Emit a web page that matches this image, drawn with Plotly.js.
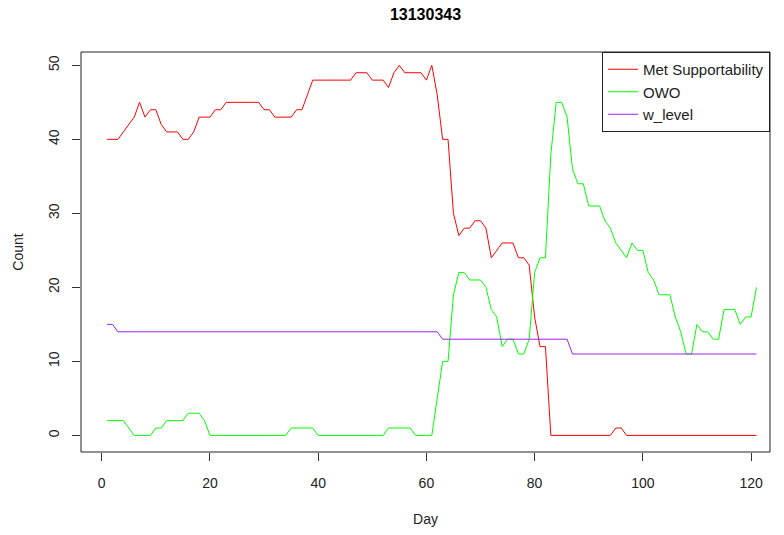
<!DOCTYPE html>
<html>
<head>
<meta charset="utf-8">
<script src="https://cdn.plot.ly/plotly-3.0.1.min.js"></script>
<style>html,body{margin:0;padding:0;background:#fff;}#chart{width:784px;height:535px;}</style>
</head>
<body>
<div id="chart"></div>
<script>
// Day index 1..121
const days = [];
for (let d = 1; d <= 121; d++) days.push(d);

const metSupportability = [
  40,40,40,41,42,43,45,43,44,44,
  42,41,41,41,40,40,41,43,43,43,
  44,44,45,45,45,45,45,45,45,44,
  44,43,43,43,43,44,44,46,48,48,
  48,48,48,48,48,48,49,49,49,48,
  48,48,47,49,50,49,49,49,49,48,
  50,46,40,40,30,27,28,28,29,29,
  28,24,25,26,26,26,24,24,23,16,
  12,12,0,0,0,0,0,0,0,0,
  0,0,0,0,1,1,0,0,0,0,
  0,0,0,0,0,0,0,0,0,0,
  0,0,0,0,0,0,0,0,0,0,
  0
];

const owo = [
  2,2,2,2,1,0,0,0,0,1,
  1,2,2,2,2,3,3,3,2,0,
  0,0,0,0,0,0,0,0,0,0,
  0,0,0,0,1,1,1,1,1,0,
  0,0,0,0,0,0,0,0,0,0,
  0,0,1,1,1,1,1,0,0,0,
  0,5,10,10,19,22,22,21,21,21,
  20,17,16,12,13,13,11,11,13,22,
  24,24,38,45,45,43,36,34,34,31,
  31,31,29,28,26,25,24,26,25,25,
  22,21,19,19,19,16,14,11,11,15,
  14,14,13,13,17,17,17,15,16,16,
  20
];

const wLevel = [
  15,15,14,14,14,14,14,14,14,14,
  14,14,14,14,14,14,14,14,14,14,
  14,14,14,14,14,14,14,14,14,14,
  14,14,14,14,14,14,14,14,14,14,
  14,14,14,14,14,14,14,14,14,14,
  14,14,14,14,14,14,14,14,14,14,
  14,14,13,13,13,13,13,13,13,13,
  13,13,13,13,13,13,13,13,13,13,
  13,13,13,13,13,13,11,11,11,11,
  11,11,11,11,11,11,11,11,11,11,
  11,11,11,11,11,11,11,11,11,11,
  11,11,11,11,11,11,11,11,11,11,
  11
];

const seriesNames = ['Met Supportability', 'OWO', 'w_level'];
const xTicks = [0, 20, 40, 60, 80, 100, 120];
const yTicks = [0, 10, 20, 30, 40, 50];

const fontFam = 'Liberation Sans, Arial, Helvetica, sans-serif';
const txt = '#222';

const traces = [
  {x: days, y: metSupportability, name: seriesNames[0], type: 'scatter', mode: 'lines',
   line: {color: '#FF0000', width: 1}},
  {x: days, y: owo, name: seriesNames[1], type: 'scatter', mode: 'lines',
   line: {color: '#00FF00', width: 1}},
  {x: days, y: wLevel, name: seriesNames[2], type: 'scatter', mode: 'lines',
   line: {color: '#A020F0', width: 1}}
];

const layout = {
  width: 784, height: 535,
  margin: {l: 81, r: 14, t: 52, b: 83},
  paper_bgcolor: '#fff', plot_bgcolor: '#fff',
  font: {family: fontFam, color: txt, size: 14},
  title: {text: '13130343', x: 0.5, xref: 'paper', xanchor: 'center',
          y: 0.974, yref: 'container', yanchor: 'middle',
          font: {family: fontFam, size: 16, weight: 'bold', color: '#000'}},
  xaxis: {range: [-3.83, 123.5], tickvals: xTicks, ticktext: xTicks.map(String),
          ticks: 'outside', ticklen: 8, tickcolor: '#333', tickwidth: 1,
          ticklabelstandoff: 10,
          showgrid: false, zeroline: false, showline: false,
          tickfont: {size: 14, color: txt},
          title: {text: 'Day', font: {size: 14, color: txt}, standoff: 24}},
  yaxis: {range: [-2.24, 51.8], tickvals: yTicks, ticktext: yTicks.map(String),
          ticks: 'outside', ticklen: 8, tickcolor: '#333', tickwidth: 1,
          tickangle: -90, ticklabelstandoff: 7,
          showgrid: false, zeroline: false, showline: false,
          tickfont: {size: 14, color: txt},
          title: {text: 'Count', font: {size: 14, color: txt}, standoff: 19}},
  shapes: [{type: 'rect', xref: 'paper', yref: 'paper', x0: 0, x1: 1, y0: 0, y1: 1,
            line: {color: '#222', width: 1}, fillcolor: 'rgba(0,0,0,0)'}],
  showlegend: true,
  legend: {x: 1, xanchor: 'right', y: 1, yanchor: 'top',
           bordercolor: '#222', borderwidth: 1, bgcolor: '#fff',
           font: {size: 15, color: txt}, tracegroupgap: 0}
};

Plotly.newPlot('chart', traces, layout, {displayModeBar: false, staticPlot: true});
</script>
</body>
</html>
